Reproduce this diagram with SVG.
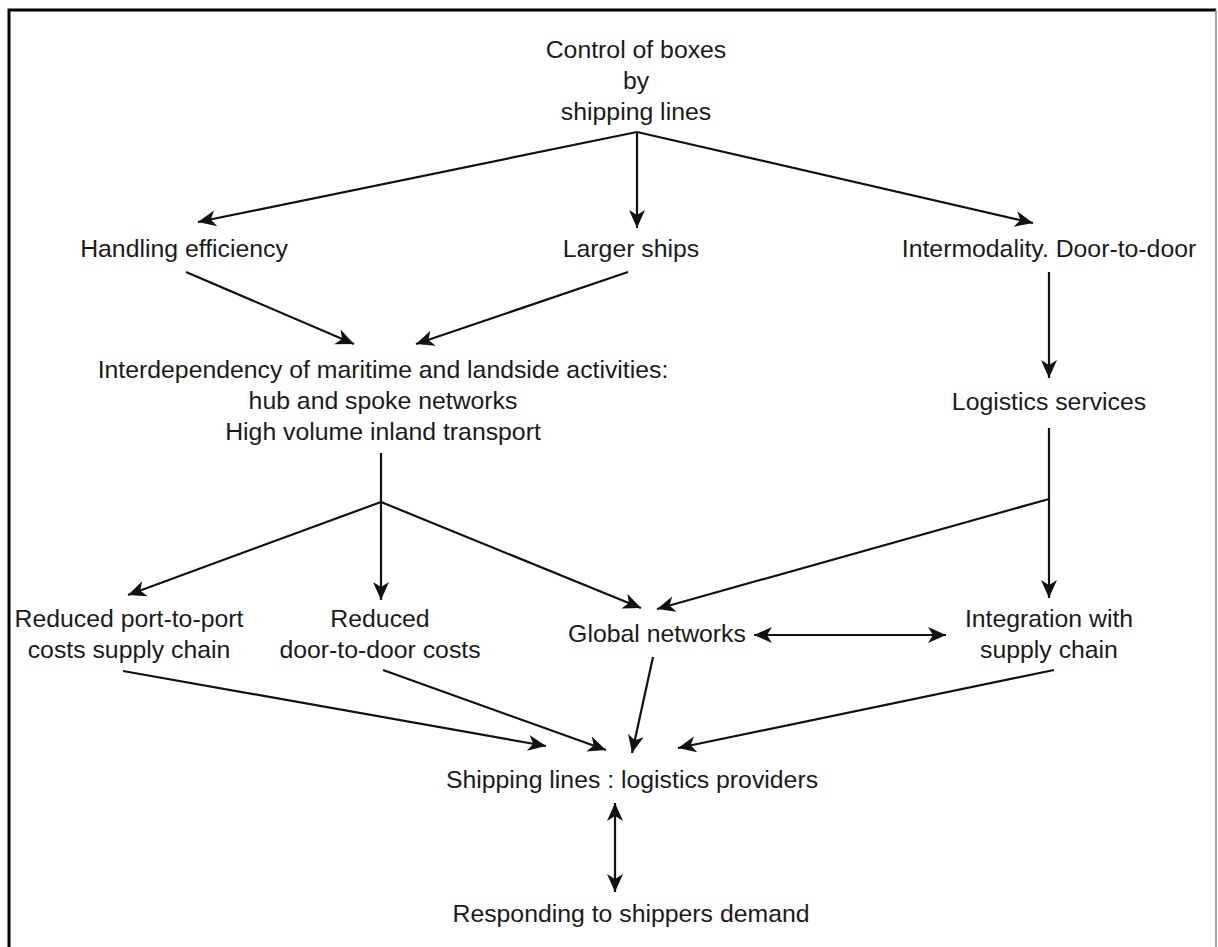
<svg xmlns="http://www.w3.org/2000/svg" width="1218" height="947" viewBox="0 0 1218 947">
<style>
text{font-family:"Liberation Sans",Arial,sans-serif;font-size:24.8px;fill:#1a1a1a;text-anchor:middle}
.c{stroke:#111;stroke-width:2.2;fill:none;marker-end:url(#ah)}
.d{stroke:#111;stroke-width:2.2;fill:none;marker-end:url(#ah);marker-start:url(#ah)}
.p{stroke:#111;stroke-width:2.2;fill:none}
</style>
<defs>
<marker id="ah" markerUnits="userSpaceOnUse" markerWidth="22" markerHeight="22" viewBox="-20 -10 22 20" refX="0" refY="0" orient="auto-start-reverse">
<path d="M0,0 L-18,-8 L-13,0 L-18,8 Z" fill="#111"/>
</marker>
</defs>
<rect width="1218" height="947" fill="#fff"/>
<path d="M9,947 V10 H1216" stroke="#000" stroke-width="3" fill="none"/>
<path d="M1216,10 V947" stroke="#888" stroke-width="1.5" fill="none"/>
<g id="connectors">
<path class="c" d="M637,132 L198,222"/>
<path class="c" d="M637,132 L637,228"/>
<path class="c" d="M637,132 L1033,223"/>
<path class="c" d="M186,272 L354,344"/>
<path class="c" d="M628,272 L416,344"/>
<path class="c" d="M1049,272 L1049,378"/>
<path class="p" d="M381,453 L381,502"/>
<path class="c" d="M381,502 L128,595"/>
<path class="c" d="M381,502 L381,600"/>
<path class="c" d="M381,502 L641,608"/>
<path class="c" d="M1049,428 L1049,598"/>
<path class="c" d="M1049,499 L657,609"/>
<path class="d" d="M754,635 L946,635"/>
<path class="c" d="M123,671 L546,746"/>
<path class="c" d="M383,670 L606,750"/>
<path class="c" d="M653,657 L632,753"/>
<path class="c" d="M1054,670 L678,748"/>
<path class="d" d="M615,803 L615,892"/>
</g>
<g id="n-control"><text x="636" y="58">Control of boxes</text><text x="636" y="89">by</text><text x="636" y="120">shipping lines</text></g>
<g id="n-handling"><text x="184" y="257">Handling efficiency</text></g>
<g id="n-larger"><text x="631" y="257">Larger ships</text></g>
<g id="n-intermodality"><text x="1049" y="257">Intermodality. Door-to-door</text></g>
<g id="n-interdependency"><text x="383" y="378">Interdependency of maritime and landside activities:</text><text x="383" y="409">hub and spoke networks</text><text x="383" y="440">High volume inland transport</text></g>
<g id="n-logistics"><text x="1049" y="410">Logistics services</text></g>
<g id="n-porttoport"><text x="129" y="627">Reduced port-to-port</text><text x="129" y="658">costs supply chain</text></g>
<g id="n-doortodoor"><text x="380" y="627">Reduced</text><text x="380" y="658">door-to-door costs</text></g>
<g id="n-global"><text x="657" y="642">Global networks</text></g>
<g id="n-integration"><text x="1049" y="627">Integration with</text><text x="1049" y="658">supply chain</text></g>
<g id="n-shipping"><text x="632" y="788">Shipping lines : logistics providers</text></g>
<g id="n-responding"><text x="631" y="922">Responding to shippers demand</text></g>
</svg>
